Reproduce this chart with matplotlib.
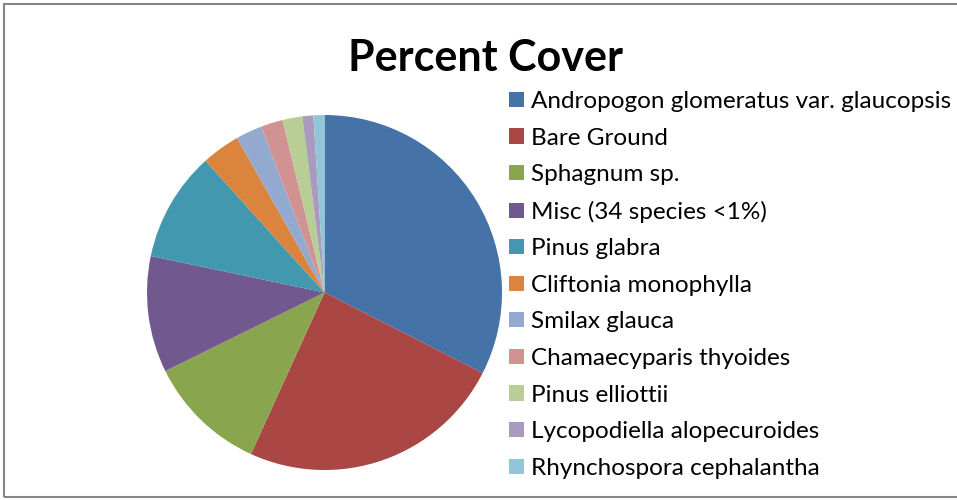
import matplotlib
matplotlib.use("Agg")
import matplotlib.pyplot as plt
from matplotlib.patches import Rectangle

# Percent cover by category
labels = [
    "Andropogon glomeratus var. glaucopsis",
    "Bare Ground",
    "Sphagnum sp.",
    "Misc (34 species <1%)",
    "Pinus glabra",
    "Cliftonia monophylla",
    "Smilax glauca",
    "Chamaecyparis thyoides",
    "Pinus elliottii",
    "Lycopodiella alopecuroides",
    "Rhynchospora cephalantha",
]
cover = [32.5, 24.3, 10.9, 10.6, 10.0, 3.5, 2.4, 2.0, 1.8, 1.0, 1.0]
colors = ["#4572A7", "#AA4643", "#89A54E", "#71588F", "#4198AF", "#DB843D",
          "#93A9CF", "#D19392", "#B9CD96", "#A99BBD", "#92C5D7"]

W, H = 957, 500
plt.rcParams['font.family'] = ['Lato', 'DejaVu Sans']
fig = plt.figure(figsize=(W / 100, H / 100), dpi=100)

# chart frame
fig.patches.append(Rectangle((4 / W, 3 / H), 1.2, (H - 7) / H, transform=fig.transFigure,
                             fill=False, edgecolor="#868686", linewidth=1.5))

ax = fig.add_axes([147 / W, 30 / H, 355 / W, 355 / H])
wedges, _ = ax.pie(cover, colors=colors, startangle=90, counterclock=False,
                   wedgeprops=dict(linewidth=0))
ax.set_xlim(-1, 1)
ax.set_ylim(-1, 1)
ax.set_aspect('equal')

fig.text(486 / W, 1 - 58 / H, "Percent Cover", ha="center", va="center",
         fontsize=31, fontweight="bold")

fig.legend(wedges, labels, loc="upper left", bbox_to_anchor=(509 / W, 1 - 91 / H),
           frameon=False, fontsize=17.5, handlelength=0.6, handleheight=0.58,
           handletextpad=0.3, labelspacing=0.64, borderaxespad=0, borderpad=0)

fig.savefig("out.png", dpi=100)
